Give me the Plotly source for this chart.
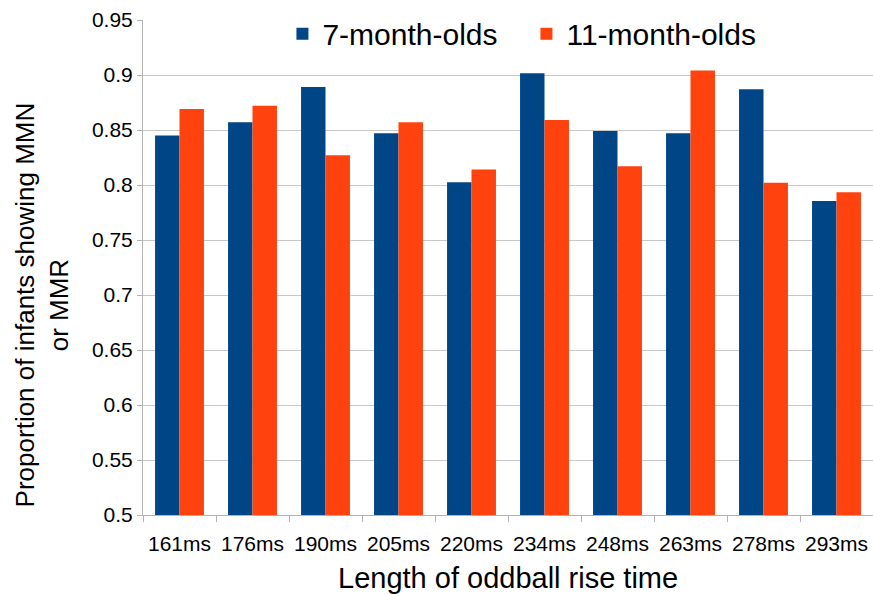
import plotly.graph_objects as go

categories = ["161ms", "176ms", "190ms", "205ms", "220ms", "234ms", "248ms", "263ms", "278ms", "293ms"]
seven_month = [0.845, 0.857, 0.889, 0.847, 0.8025, 0.9015, 0.849, 0.847, 0.887, 0.7855]
eleven_month = [0.869, 0.872, 0.827, 0.857, 0.814, 0.859, 0.817, 0.904, 0.802, 0.7935]
y_ticks = [0.5, 0.55, 0.6, 0.65, 0.7, 0.75, 0.8, 0.85, 0.9, 0.95]

FONT = "Liberation Sans, Arial, sans-serif"

fig = go.Figure()
fig.add_trace(go.Bar(x=categories, y=seven_month, name="7-month-olds",
                     marker=dict(color="#004586", line=dict(width=0))))
fig.add_trace(go.Bar(x=categories, y=eleven_month, name="11-month-olds",
                     marker=dict(color="#ff420e", line=dict(width=0))))

fig.update_layout(
    width=873, height=594,
    margin=dict(l=143, r=0, t=20, b=79, autoexpand=False),
    paper_bgcolor="white", plot_bgcolor="white",
    barmode="group", bargap=0.33, bargroupgap=0,
    font=dict(family=FONT, color="black", size=21),
    showlegend=True,
    legend=dict(orientation="h", x=0.191, y=1.025, xanchor="left", yanchor="top",
                font=dict(size=30, family=FONT), bgcolor="rgba(0,0,0,0)",
                entrywidth=199, entrywidthmode="pixels", tracegroupgap=0),
    annotations=[
        dict(text="Proportion of infants showing MMN<br>or MMR", xref="paper", yref="paper",
             x=-0.138, y=0.424, xanchor="center", yanchor="middle", textangle=-90,
             showarrow=False, font=dict(size=26, family=FONT, color="black")),
        dict(text="Length of oddball rise time", xref="paper", yref="paper",
             x=0.5, y=-0.127, xanchor="center", yanchor="middle",
             showarrow=False, font=dict(size=29, family=FONT, color="black")),
    ],
)
fig.update_xaxes(
    automargin=False,
    showline=True, linecolor="#b3b3b3", linewidth=1,
    ticks="outside", tickson="boundaries", ticklen=6, tickcolor="#b3b3b3",
    ticklabelstandoff=10,
    tickfont=dict(size=21, family=FONT, color="black"),
    showgrid=False,
)
fig.update_yaxes(
    automargin=False,
    range=[0.5, 0.95], tickvals=y_ticks, ticktext=[f"{v:g}" for v in y_ticks],
    showline=True, linecolor="#b3b3b3", linewidth=1,
    ticks="outside", ticklen=5, tickcolor="#b3b3b3",
    showgrid=True, gridcolor="#c8c8c8", gridwidth=1,
    tickfont=dict(size=21, family=FONT, color="black"),
    zeroline=False,
)

fig.write_html("out.html", config={"displayModeBar": False},
               post_script="document.body.style.margin='0';document.body.style.overflow='hidden';")
